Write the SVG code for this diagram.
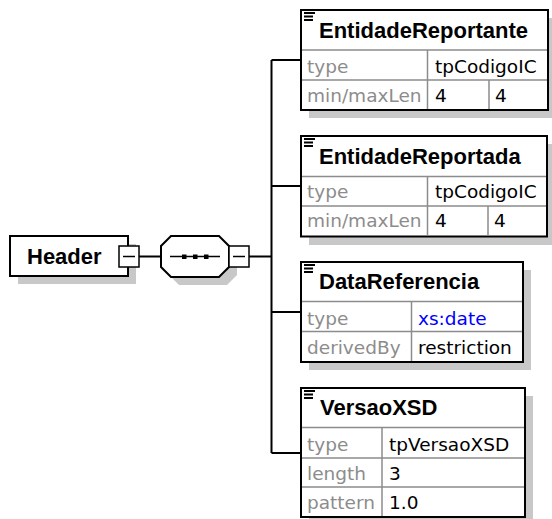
<svg xmlns="http://www.w3.org/2000/svg" width="552" height="519" viewBox="0 0 552 519">
<style>
.bg{fill:#fff}
.box{fill:#fff;stroke:#000;stroke-width:2}
.shadow{fill:#c8c8c8}
.grid{stroke:#8c8c8c;stroke-width:1.5;fill:none}
.conn{stroke:#000;stroke-width:2;fill:none}
.pm{fill:#fff;stroke:#000;stroke-width:1.5}
.title{font-family:"Liberation Sans",Arial,sans-serif;font-weight:bold;font-size:22px;fill:#000}
.lbl{font-family:"DejaVu Sans",Verdana,sans-serif;font-size:18.5px;fill:#8c8c8c}
.val{font-family:"DejaVu Sans",Verdana,sans-serif;font-size:18.5px;fill:#000}
.link{fill:#0000ff}
</style>
<defs>
<g id="icon"><rect x="0" y="0" width="11" height="2" fill="#000"/><rect x="0" y="3.5" width="9" height="2" fill="#000"/><rect x="0" y="7" width="9" height="2" fill="#000"/></g>
</defs>
<rect class="bg" x="0" y="0" width="552" height="519"/>
<g id="connectors">
<line class="conn" x1="139" y1="256.5" x2="161" y2="256.5"/>
<line class="conn" x1="249" y1="256.5" x2="271.5" y2="256.5"/>
<line class="conn" x1="271.5" y1="60" x2="271.5" y2="453"/>
<line class="conn" x1="271.5" y1="60" x2="301" y2="60"/>
<line class="conn" x1="271.5" y1="186" x2="301" y2="186"/>
<line class="conn" x1="271.5" y1="312" x2="301" y2="312"/>
<line class="conn" x1="271.5" y1="453" x2="301" y2="453"/>
</g>
<g id="Header">
<rect class="shadow" x="18" y="244" width="118" height="40"/>
<rect class="box" x="10" y="236" width="118" height="40"/>
<text class="title" x="27" y="263.5">Header</text>
<rect class="pm" x="119" y="246" width="20" height="21"/>
<line x1="123" y1="256.5" x2="135" y2="256.5" stroke="#000" stroke-width="1.5"/>
</g>
<g id="sequence">
<polygon class="shadow" points="179,244 227,244 237,254 237,275 227,285 179,285 169,275 169,254"/>
<polygon class="box" points="171,236 219,236 229,246 229,267 219,277 171,277 161,267 161,246"/>
<line x1="170" y1="256.5" x2="220" y2="256.5" stroke="#000" stroke-width="1.5"/>
<rect x="182" y="254.5" width="4.5" height="4.5" fill="#000"/>
<rect x="193" y="254.5" width="4.5" height="4.5" fill="#000"/>
<rect x="204" y="254.5" width="4.5" height="4.5" fill="#000"/>
<rect class="pm" x="229" y="246" width="20" height="21"/>
<line x1="233" y1="256.5" x2="245" y2="256.5" stroke="#000" stroke-width="1.5"/>
</g>
<g id="EntidadeReportante">
<rect class="shadow" x="309" y="18" width="248" height="100"/>
<rect class="box" x="301" y="10" width="247" height="100"/>
<path class="grid" d="M302,50H547M302,80H547M427.5,50V109M489,80V109"/>
<use href="#icon" x="304" y="12"/>
<text class="title" x="319" y="37.5">EntidadeReportante</text>
<text class="lbl" x="307" y="72.5">type</text>
<text class="val" x="435" y="72.5">tpCodigoIC</text>
<text class="lbl" x="307" y="101.5">min/maxLen</text>
<text class="val" x="435" y="101.5">4</text>
<text class="val" x="495" y="101.5">4</text>
</g>
<g id="EntidadeReportada">
<rect class="shadow" x="309" y="144" width="248" height="101"/>
<rect class="box" x="301" y="136" width="246" height="100.5"/>
<path class="grid" d="M302,176.5H546M302,206H546M427.5,176.5V235.5M488,206V235.5"/>
<use href="#icon" x="304" y="138"/>
<text class="title" x="319" y="163.5">EntidadeReportada</text>
<text class="lbl" x="307" y="197.5">type</text>
<text class="val" x="435" y="197.5">tpCodigoIC</text>
<text class="lbl" x="307" y="227">min/maxLen</text>
<text class="val" x="435" y="227">4</text>
<text class="val" x="494" y="227">4</text>
</g>
<g id="DataReferencia">
<rect class="shadow" x="309" y="270" width="222" height="100"/>
<rect class="box" x="301" y="262" width="222" height="100"/>
<path class="grid" d="M302,301.5H522M302,331.5H522M411.5,301.5V361"/>
<use href="#icon" x="304" y="264"/>
<text class="title" x="319" y="288.5">DataReferencia</text>
<text class="lbl" x="307" y="324.5">type</text>
<text class="val link" x="418" y="324.5">xs:date</text>
<text class="lbl" x="307" y="354">derivedBy</text>
<text class="val" x="418" y="354">restriction</text>
</g>
<g id="VersaoXSD">
<rect class="shadow" x="309" y="396" width="224" height="128"/>
<rect class="box" x="301" y="388" width="224" height="129"/>
<path class="grid" d="M302,427.5H524M302,458H524M302,487H524M382,427.5V516"/>
<use href="#icon" x="304" y="390"/>
<text class="title" x="320" y="415">VersaoXSD</text>
<text class="lbl" x="307" y="451">type</text>
<text class="val" x="389" y="451">tpVersaoXSD</text>
<text class="lbl" x="307" y="480">length</text>
<text class="val" x="389" y="480">3</text>
<text class="lbl" x="307" y="509">pattern</text>
<text class="val" x="389" y="509">1.0</text>
</g>
</svg>
